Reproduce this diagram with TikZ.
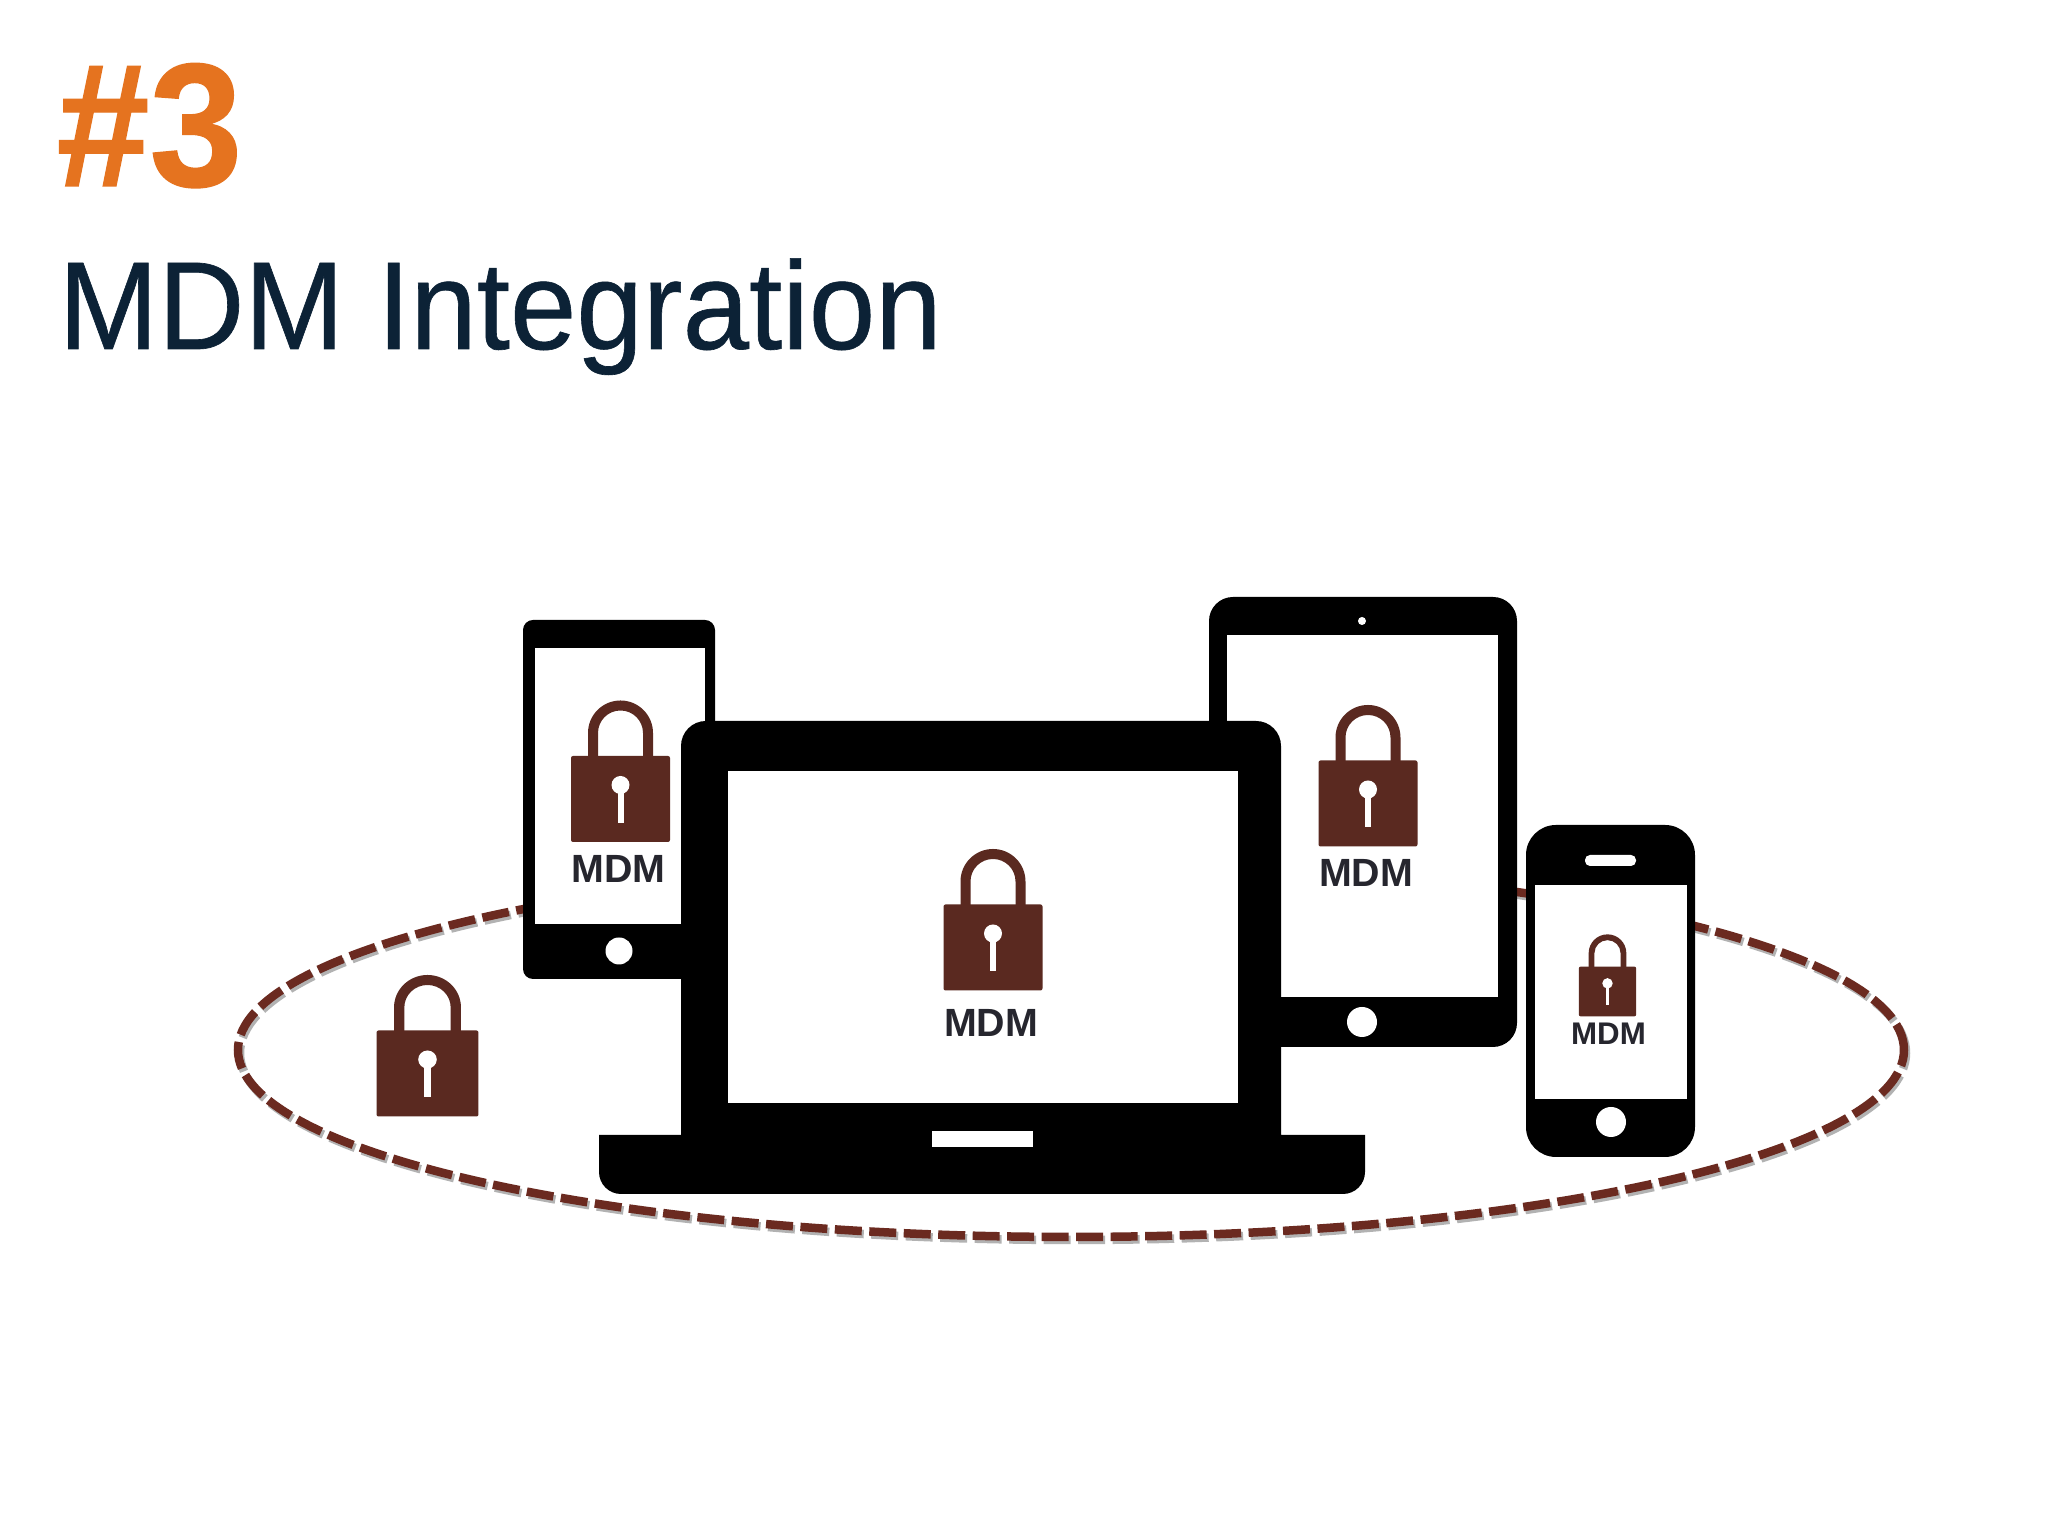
\documentclass[tikz,border=0pt]{standalone}
\usepackage{fontspec}
\setmainfont{Liberation Sans}
\newfontfamily\hashfont[FakeBold=.8]{Liberation Sans Bold}
\newfontfamily\headfont[FakeBold=.5]{Liberation Sans}
\definecolor{lockbrown}{HTML}{5A2920}
\definecolor{ringbrown}{HTML}{6B2A20}
\definecolor{hashorange}{HTML}{E5731F}
\definecolor{titlenavy}{HTML}{0C2236}
\definecolor{mdmgray}{HTML}{26262E}
\tikzset{
	padlock/.pic={
		\fill[lockbrown,rounded corners=.02cm] (-.495,-.43) rectangle (.495,.43);
		\fill[lockbrown] (-.325,.42) -- (-.325,.66) arc[start angle=180,end angle=0,radius=.325] -- (.325,.42) -- (.225,.42) -- (.225,.66) arc[start angle=0,end angle=180,radius=.225] -- (-.225,.42) -- cycle;
		\fill[white] (0,.14) circle (.09);
		\fill[white] (-.03,.14) rectangle (.03,-.24);
	},
	mdm/.style={font=\bfseries\fontsize{11.2}{12}\selectfont,text=mdmgray,inner sep=0,anchor=base},
	ring/.style={line width=.085cm,dash pattern=on .27cm off .075cm}
}
\begin{document}
\begin{tikzpicture}
	\useasboundingbox (0,0) rectangle (20.48,15.36);
	\fill[white] (0,0) rectangle (20.48,15.36);
	\node (hash) [font=\hashfont\fontsize{50}{52}\selectfont,text=hashorange,inner sep=0,anchor=base west,xscale=.95,transform shape] at (.56,13.5) {\#3};
	\node (title) [font=\headfont\fontsize{35.6}{40}\selectfont,text=titlenavy,inner sep=0,anchor=base west,xscale=.955,transform shape] at (.58,11.87) {MDM Integration};
	\draw[ring,black!50,opacity=.6] (10.73,4.83) ellipse (8.33 and 1.87);
	\draw[ring,ringbrown] (10.71,4.86) ellipse (8.33 and 1.87);
	% left phone
	\fill[black,rounded corners=.1cm] (5.23,5.57) rectangle (7.15,9.16);
	\fill[white] (5.35,6.12) rectangle (7.05,8.88);
	\fill[white] (6.19,5.85) circle (.135);
	\pic at (6.205,7.37) {padlock};
	\node (mdmphone) [mdm] at (6.185,6.53) {MDM};
	% tablet
	\fill[black,rounded corners=.24cm] (12.09,4.89) rectangle (15.17,9.39);
	\fill[white] (12.27,5.39) rectangle (14.98,9.01);
	\fill[white] (13.62,9.15) circle (.04);
	\fill[white] (13.62,5.14) circle (.15);
	\pic at (13.68,7.325) {padlock};
	\node (mdmtablet) [mdm] at (13.66,6.49) {MDM};
	% small phone
	\fill[black,rounded corners=.3cm] (15.26,3.79) rectangle (16.95,7.11);
	\fill[white] (15.35,4.37) rectangle (16.87,6.51);
	\fill[white,rounded corners=.05cm] (15.85,6.70) rectangle (16.36,6.81);
	\fill[white] (16.11,4.14) circle (.15);
	\pic[scale=.58] at (16.075,5.445) {padlock};
	\node (mdmsmall) [mdm,font=\bfseries\fontsize{8.9}{10}\selectfont] at (16.085,4.91) {MDM};
	% laptop
	\fill[black] (6.81,4.01) [rounded corners=.25cm] -- (6.81,8.15) -- (12.81,8.15) [sharp corners] -- (12.81,4.01) -- (13.65,4.01) [rounded corners=.22cm] -- (13.65,3.42) -- (5.99,3.42) [sharp corners] -- (5.99,4.01) -- cycle;
	\fill[white] (7.28,4.33) rectangle (12.38,7.65);
	\fill[white] (9.32,3.89) rectangle (10.33,4.05);
	\pic at (9.93,5.885) {padlock};
	\node (mdmlaptop) [mdm] at (9.91,4.99) {MDM};
	% lock on its own
	\pic[xscale=1.03] at (4.275,4.625) {padlock};
\end{tikzpicture}
\end{document}
